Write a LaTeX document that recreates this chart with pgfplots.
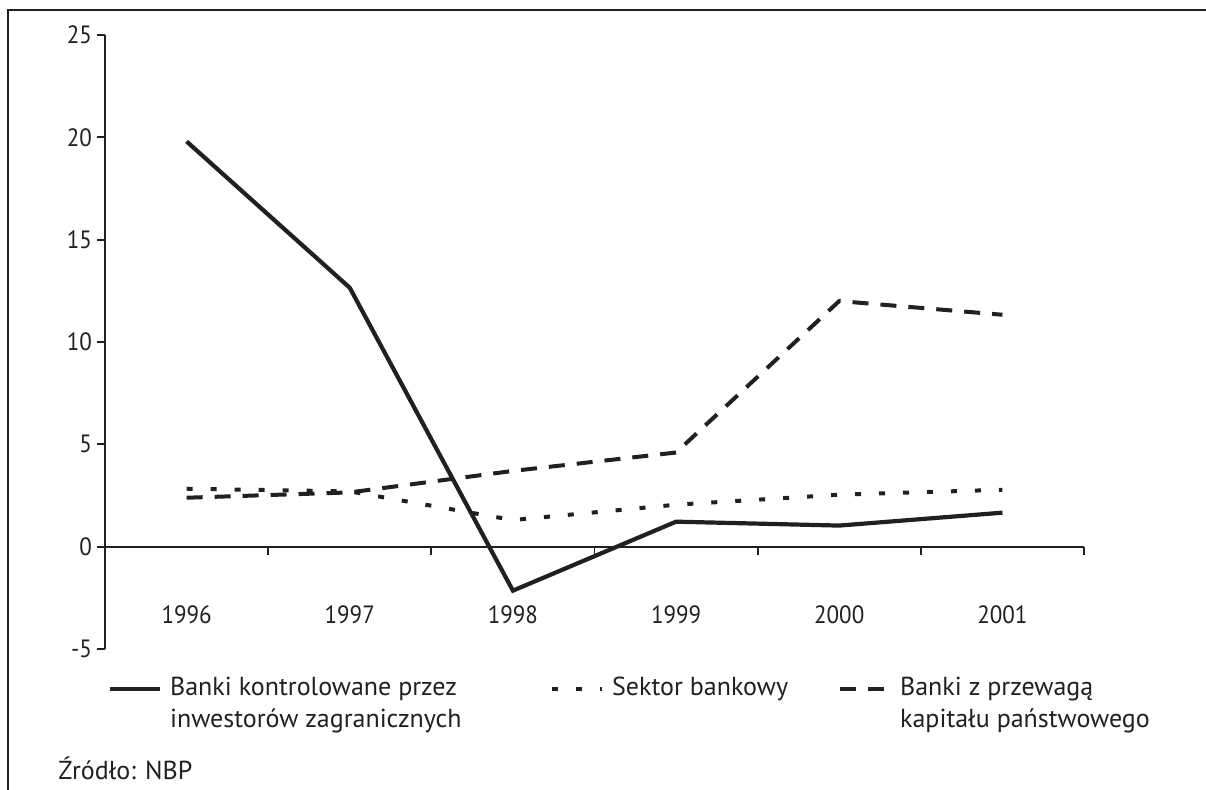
\documentclass[border=0pt]{standalone}
\usepackage{fontspec}
\setmainfont{PT Sans}
\newfontfamily\tickfont{PT Sans}[FakeStretch=0.92]
\usepackage{pgfplots}
\pgfplotsset{compat=1.18}
\definecolor{ink}{HTML}{231F20}
\begin{document}
\begin{tikzpicture}[font=\fontsize{13}{16}\selectfont, color=ink]
\useasboundingbox (0,0) rectangle (603pt,395pt);
\draw[ink, line width=1pt] (603pt,390pt) -- (4pt,390pt) -- (4pt,0pt);
\begin{axis}[
  at={(52.5pt,377.5pt)}, anchor=north west,
  scale only axis, width=489.5pt, height=307pt,
  xmin=-0.5, xmax=5.5, ymin=-5, ymax=25,
  axis x line*=middle, axis y line*=left,
  axis line style={ink, line width=0.9pt, -},
  tick align=outside, major tick length=4pt,
  every tick/.style={ink, line width=0.9pt},
  ytick={-5,0,5,10,15,20,25}, yticklabels={-5,0,5,10,15,20,25},
  yticklabel style={font=\tickfont\fontsize{12.5}{16}\selectfont, text=ink, xshift=1pt},
  xtick={0,1,2,3,4,5}, xticklabels={1996,1997,1998,1999,2000,2001},
  xtick style={draw=none},
  extra x ticks={0.5,1.5,2.5,3.5,4.5,5.5}, extra x tick labels={},
  every extra x tick/.append style={xtick style={draw=ink}},
  xticklabel style={font=\tickfont\fontsize{12.5}{16}\selectfont, text=ink, yshift=-22pt},
  legend columns=3,
  legend cell align=left,
  legend style={draw=none, fill=none, inner sep=0pt, outer sep=0pt,
    anchor=north west, at={(axis description cs:0.003,-0.045)},
    nodes={inner sep=0pt, anchor=base west, text=ink},
    /tikz/every odd column/.append style={column sep=4pt},
    font=\fontsize{13}{16}\selectfont},
  legend image code/.code={\draw[#1] (0pt,0.3em) -- (25pt,0.3em);},
]
\addplot[ink, line width=2.1pt, solid] coordinates {
  (0,19.8) (1,12.65) (2,-2.15) (3,1.22) (4,1.03) (5,1.66)};
\addlegendentry{\parbox[t]{190pt}{Banki kontrolowane przez\\inwestorów zagranicznych}}
\addplot[ink, line width=2pt, dash pattern=on 3pt off 9pt] coordinates {
  (0,2.83) (1,2.7) (2,1.3) (3,2.05) (4,2.54) (5,2.78)};
\addlegendentry{\parbox[t]{113pt}{Sektor bankowy}}
\addplot[ink, line width=2pt, dash pattern=on 8pt off 6pt] coordinates {
  (0,2.39) (1,2.65) (2,3.7) (3,4.6) (4,12.0) (5,11.33)};
\addlegendentry{\parbox[t]{150pt}{Banki z przewagą\\kapitału państwowego}}
\end{axis}
\node[anchor=base west, inner sep=0pt] at (29pt,5pt) {Źródło: NBP};
\end{tikzpicture}
\end{document}
